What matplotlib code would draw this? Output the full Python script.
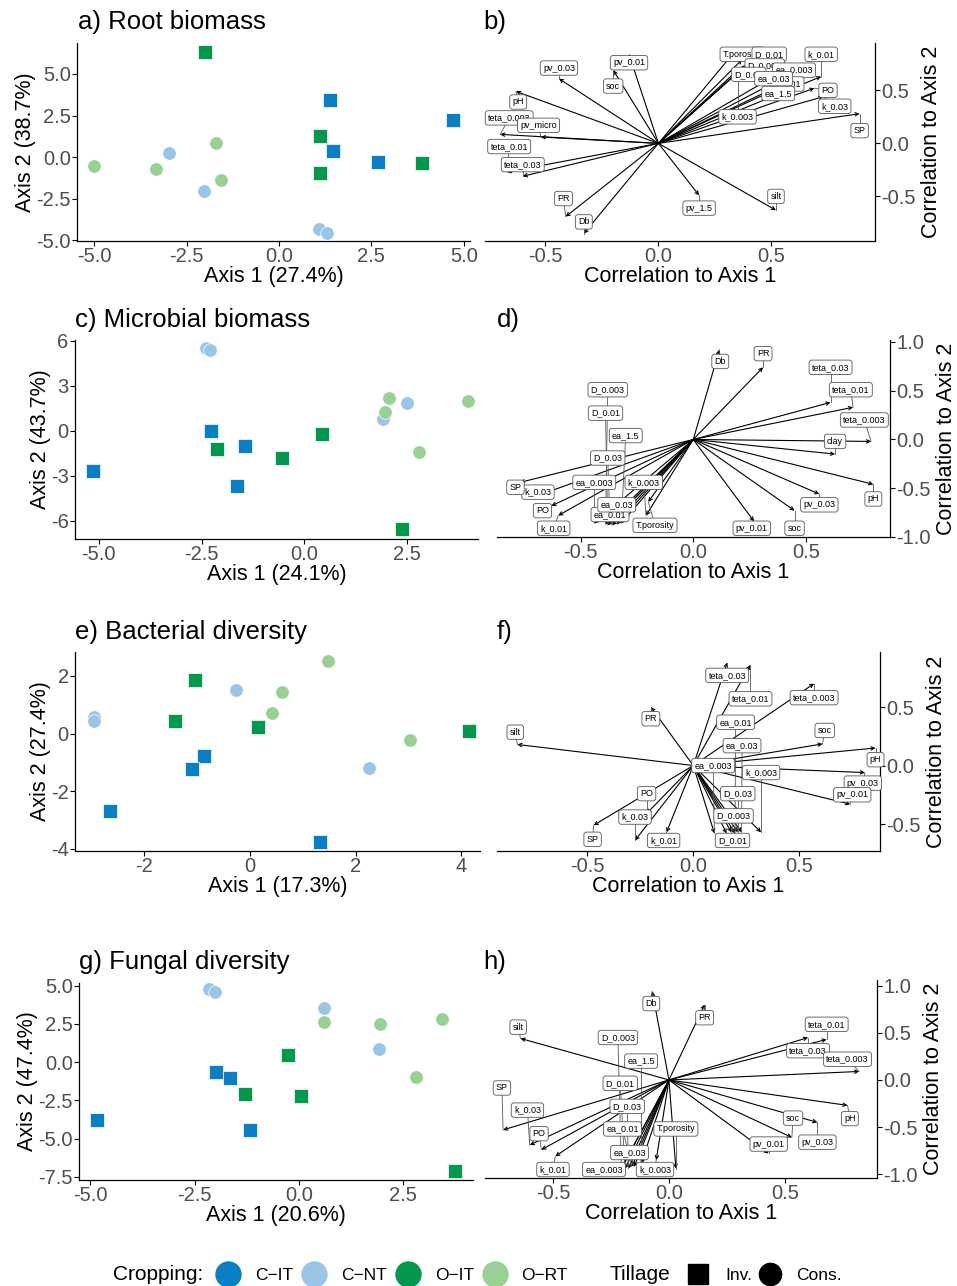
import numpy as np
import matplotlib.pyplot as plt
from matplotlib.lines import Line2D

plt.rcParams['font.family'] = ['Liberation Sans', 'DejaVu Sans']
plt.rcParams['axes.unicode_minus'] = False

cols = {'C-IT': '#0b7fc3', 'C-NT': '#9ac5e6', 'O-IT': '#04984f', 'O-RT': '#99d096'}
shape = {'C-IT': 's', 'O-IT': 's', 'C-NT': 'o', 'O-RT': 'o'}
grp = ['C-IT'] * 4 + ['O-IT'] * 4 + ['C-NT'] * 4 + ['O-RT'] * 4

# ---- ordination scores ----
a_x = [1.39, 4.72, 1.46, 2.68, -2.01, 1.12, 3.86, 1.12, -2.98, -2.04, 1.08, 1.31, -1.72, -5.0, -3.34, -1.56]
a_y = [3.44, 2.22, 0.38, -0.28, 6.32, 1.26, -0.36, -0.98, 0.26, -2.04, -4.34, -4.54, 0.82, -0.52, -0.74, -1.38]

c_x = [-2.27, -1.43, -5.14, -1.63, 0.44, -2.13, -0.54, 2.39, -2.38, -2.30, 2.49, 1.91, 2.07, 3.99, 1.96, 2.80]
c_y = [0.0, -0.98, -2.67, -3.64, -0.22, -1.2, -1.78, -6.56, 5.51, 5.36, 1.87, 0.78, 2.16, 1.96, 1.24, -1.38]

e_x = [-0.86, -1.09, -2.64, 1.32, -1.03, -1.42, 0.15, 4.14, -0.26, -2.94, -2.94, 2.26, 1.47, 0.61, 0.42, 3.03]
e_y = [-0.79, -1.21, -2.68, -3.76, 1.87, 0.45, 0.23, 0.08, 1.50, 0.58, 0.43, -1.19, 2.52, 1.45, 0.72, -0.23]

g_x = [-1.98, -1.65, -4.84, -1.17, -0.26, -1.29, 0.04, 3.73, -2.16, -2.0, 0.6, 1.91, 3.43, 0.59, 1.95, 2.81]
g_y = [-0.66, -1.05, -3.76, -4.45, 0.48, -2.10, -2.21, -7.12, 4.78, 4.59, 3.56, 0.87, 2.84, 2.60, 2.47, -0.94]

# ---- correlation vectors ----
b_names = ['T.porosity', 'D_0.01', 'D_0.003', 'D_0.03', 'k_0.003', 'ea_0.003', 'ea_0.01', 'ea_0.03', 'ea_1.5',
           'k_0.01', 'PO', 'k_0.03', 'SP', 'pv_0.03', 'pv_0.01', 'soc', 'pH', 'teta_0.003', 'pv_micro',
           'teta_0.01', 'teta_0.03', 'PR', 'Db', 'pv_1.5', 'silt']
b_x = [0.32, 0.37, 0.39, 0.35, 0.35, 0.59, 0.57, 0.51, 0.54, 0.72, 0.69, 0.73, 0.89, -0.44, -0.13, -0.20,
       -0.63, -0.70, -0.52, -0.67, -0.60, -0.41, -0.33, 0.18, 0.52]
b_y = [0.82, 0.79, 0.74, 0.69, 0.67, 0.66, 0.58, 0.63, 0.53, 0.63, 0.52, 0.44, 0.28, 0.61, 0.84, 0.69,
       0.49, 0.085, 0.06, -0.27, -0.31, -0.69, -0.85, -0.49, -0.63]

d_names = ['Db', 'PR', 'teta_0.03', 'teta_0.01', 'teta_0.003', 'clay', 'pH', 'pv_0.03', 'soc', 'pv_0.01',
           'T.porosity', 'k_0.003', 'D_0.003', 'D_0.01', 'ea_1.5', 'D_0.03', 'ea_0.003', 'k_0.03', 'SP',
           'PO', 'ea_0.01', 'ea_0.03', 'k_0.01']
d_x = [0.116, 0.31, 0.61, 0.71, 0.79, 0.63, 0.80, 0.56, 0.45, 0.27, -0.20, -0.21, -0.39, -0.38, -0.32,
       -0.37, -0.44, -0.66, -0.77, -0.63, -0.36, -0.34, -0.60]
d_y = [0.92, 0.74, 0.38, 0.33, -0.02, -0.15, -0.46, -0.56, -0.73, -0.84, -0.64, -0.78, -0.87, -0.88,
       -0.86, -0.86, -0.86, -0.55, -0.44, -0.68, -0.88, -0.87, -0.78]

f_names = ['teta_0.03', 'teta_0.01', 'teta_0.003', 'PR', 'ea_0.01', 'soc', 'ea_0.03', 'silt', 'pH',
           'ea_0.003', 'k_0.003', 'pv_0.03', 'pv_0.01', 'D_0.03', 'PO', 'k_0.03', 'SP', 'k_0.01',
           'D_0.003', 'D_0.01']
f_x = [0.16, 0.27, 0.57, -0.20, 0.197, 0.61, 0.228, -0.83, 0.86, 0.10, 0.32, 0.81, 0.74, 0.21, -0.22,
       -0.275, -0.47, -0.126, 0.18, 0.157]
f_y = [0.88, 0.86, 0.70, 0.50, -0.58, 0.185, -0.57, 0.18, 0.15, -0.58, -0.57, -0.06, -0.33, -0.57,
       -0.41, -0.64, -0.51, -0.57, -0.57, -0.58]

h_names = ['Db', 'PR', 'silt', 'teta_0.01', 'teta_0.03', 'teta_0.003', 'D_0.003', 'ea_1.5', 'D_0.01', 'SP',
           'D_0.03', 'k_0.03', 'PO', 'ea_0.01', 'T.porosity', 'soc', 'pH', 'pv_0.01', 'pv_0.03', 'ea_0.03',
           'k_0.01', 'ea_0.003', 'k_0.003']
h_x = [-0.072, 0.154, -0.64, 0.68, 0.60, 0.82, -0.205, -0.12, -0.19, -0.715, -0.175, -0.60, -0.55, -0.16,
       0.03, 0.53, 0.77, 0.43, 0.64, -0.15, -0.49, -0.21, -0.055]
h_y = [0.94, 0.80, 0.44, 0.43, 0.45, 0.09, -0.94, -0.89, -0.94, -0.53, -0.94, -0.69, -0.74, -0.92, -0.94,
       -0.61, -0.27, -0.78, -0.45, -0.92, -0.81, -0.96, -0.85]

# ---- label placement (repelled label positions) ----
b_lab = [(0.37, 0.84), (0.49, 0.84), (0.47, 0.73), (0.40, 0.65), (0.35, 0.25), (0.60, 0.69), (0.56, 0.56),
         (0.51, 0.61), (0.53, 0.47), (0.72, 0.84), (0.75, 0.50), (0.78, 0.35), (0.89, 0.12), (-0.44, 0.71),
         (-0.13, 0.76), (-0.20, 0.54), (-0.62, 0.39), (-0.66, 0.24), (-0.53, 0.17), (-0.66, -0.03),
         (-0.60, -0.20), (-0.42, -0.52), (-0.33, -0.74), (0.18, -0.61), (0.52, -0.50)]
d_lab = [(0.12, 0.80), (0.31, 0.88), (0.61, 0.74), (0.70, 0.51), (0.76, 0.20), (0.63, -0.02), (0.80, -0.61),
         (0.56, -0.67), (0.45, -0.91), (0.26, -0.91), (-0.17, -0.88), (-0.22, -0.44), (-0.38, 0.51),
         (-0.39, 0.27), (-0.30, 0.04), (-0.38, -0.19), (-0.44, -0.44), (-0.69, -0.54), (-0.79, -0.49),
         (-0.67, -0.73), (-0.37, -0.77), (-0.34, -0.67), (-0.62, -0.91)]
f_lab = [(0.16, 0.77), (0.27, 0.57), (0.57, 0.58), (-0.20, 0.40), (0.20, 0.37), (0.62, 0.30), (0.23, 0.17),
         (-0.84, 0.285), (0.86, 0.05), (0.094, 0.0), (0.32, -0.06), (0.80, -0.15), (0.75, -0.25),
         (0.21, -0.24), (-0.22, -0.24), (-0.275, -0.44), (-0.475, -0.63), (-0.14, -0.64), (0.19, -0.43),
         (0.185, -0.64)]
h_lab = [(-0.076, 0.81), (0.154, 0.66), (-0.65, 0.56), (0.68, 0.59), (0.60, 0.31), (0.77, 0.22),
         (-0.22, 0.45), (-0.12, 0.20), (-0.21, -0.035), (-0.72, -0.085), (-0.18, -0.28), (-0.61, -0.32),
         (-0.56, -0.57), (-0.20, -0.52), (0.03, -0.52), (0.535, -0.405), (0.78, -0.41), (0.43, -0.68),
         (0.64, -0.66), (-0.17, -0.77), (-0.50, -0.95), (-0.28, -0.95), (-0.06, -0.95)]

W, H = 957, 1286
fig = plt.figure(figsize=(W / 100, H / 100), dpi=100)

TICK = 14.5
LAB = 15.5


def box(l, t, r, b):
    return [l / W, 1 - b / H, (r - l) / W, (b - t) / H]


def scatter_panel(rect, xs, ys, xlim, ylim, xt, yt, xfmt, yfmt, xl, yl):
    ax = fig.add_axes(rect)
    for g in ['C-IT', 'C-NT', 'O-IT', 'O-RT']:
        idx = [i for i, gg in enumerate(grp) if gg == g]
        ax.scatter([xs[i] for i in idx], [ys[i] for i in idx], s=95, marker=shape[g], c=cols[g],
                   edgecolors='white', linewidths=0.5, zorder=3)
    ax.set_xlim(xlim)
    ax.set_ylim(ylim)
    ax.set_xticks(xt)
    ax.set_yticks(yt)
    ax.set_xticklabels([xfmt.format(v) for v in xt])
    ax.set_yticklabels([yfmt.format(v) for v in yt])
    for s in ['top', 'right']:
        ax.spines[s].set_visible(False)
    for s in ['left', 'bottom']:
        ax.spines[s].set_linewidth(0.9)
    ax.tick_params(labelsize=TICK, labelcolor='#4d4d4d', length=3.5, width=0.8, pad=1)
    ax.set_xlabel(xl, fontsize=LAB, labelpad=0)
    ax.set_ylabel(yl, fontsize=LAB, labelpad=0)
    return ax


def biplot(rect, names, vx, vy, labs, xlim, ylim, yt):
    ax = fig.add_axes(rect)
    for x, y in zip(vx, vy):
        ax.annotate('', xy=(x, y), xytext=(0, 0),
                    arrowprops=dict(arrowstyle='->', lw=0.8, color='black', shrinkA=0, shrinkB=0,
                                    mutation_scale=6), zorder=2)
    for (tx, ty), x, y in zip(labs, vx, vy):
        ax.plot([tx, x], [ty, y], color='#555555', lw=0.6, zorder=3)
    for i, (n, (tx, ty)) in enumerate(zip(names, labs)):
        ax.text(tx, ty, n, fontsize=6.5, ha='center', va='center', zorder=5 + i,
                bbox=dict(boxstyle='round,pad=0.3,rounding_size=0.3', fc='white', ec='#555555', lw=0.6))
    ax.set_xlim(xlim)
    ax.set_ylim(ylim)
    ax.set_xticks([-0.5, 0.0, 0.5])
    ax.set_xticklabels(['-0.5', '0.0', '0.5'])
    ax.set_yticks(yt)
    ax.set_yticklabels(['{:.1f}'.format(v) for v in yt])
    ax.yaxis.tick_right()
    ax.yaxis.set_label_position('right')
    for s in ['top', 'left']:
        ax.spines[s].set_visible(False)
    for s in ['right', 'bottom']:
        ax.spines[s].set_linewidth(0.9)
    ax.tick_params(labelsize=TICK, labelcolor='#4d4d4d', length=3.5, width=0.8, pad=1)
    ax.set_xlabel('Correlation to Axis 1', fontsize=LAB, labelpad=0)
    ax.set_ylabel('Correlation to Axis 2', fontsize=LAB, labelpad=4)
    return ax


scatter_panel(box(77, 43, 470, 241), a_x, a_y, (-5.47, 5.17), (-5.04, 6.86),
              [-5, -2.5, 0, 2.5, 5], [-5, -2.5, 0, 2.5, 5], '{:.1f}', '{:.1f}',
              'Axis 1 (27.4%)', 'Axis 2 (38.7%)')
biplot(box(485, 43, 875, 241), b_names, b_x, b_y, b_lab, (-0.767, 0.958), (-0.92, 0.946), [-0.5, 0.0, 0.5])

scatter_panel(box(75, 340, 478, 539), c_x, c_y, (-5.58, 4.23), (-7.2, 6.05),
              [-5, -2.5, 0, 2.5], [-6, -3, 0, 3, 6], '{:.1f}', '{:.0f}',
              'Axis 1 (24.1%)', 'Axis 2 (43.7%)')
biplot(box(497, 340, 890, 537), d_names, d_x, d_y, d_lab, (-0.872, 0.874), (-1.0, 1.02),
       [-1.0, -0.5, 0.0, 0.5, 1.0])

scatter_panel(box(75, 652, 480, 851), e_x, e_y, (-3.30, 4.35), (-4.07, 2.83),
              [-2, 0, 2, 4], [-4, -2, 0, 2], '{:.0f}', '{:.0f}',
              'Axis 1 (17.3%)', 'Axis 2 (27.4%)')
biplot(box(497, 652, 880, 851), f_names, f_x, f_y, f_lab, (-0.926, 0.881), (-0.73, 0.97), [-0.5, 0.0, 0.5])

scatter_panel(box(79, 983, 473, 1180), g_x, g_y, (-5.27, 4.17), (-7.7, 5.17),
              [-5, -2.5, 0, 2.5], [-7.5, -5, -2.5, 0, 2.5, 5], '{:.1f}', '{:.1f}',
              'Axis 1 (20.6%)', 'Axis 2 (47.4%)')
biplot(box(485, 980, 877, 1178), h_names, h_x, h_y, h_lab, (-0.793, 0.897), (-1.04, 1.06),
       [-1.0, -0.5, 0.0, 0.5, 1.0])

titles = [('a) Root biomass', 78, 22), ('b)', 483, 22), ('c) Microbial biomass', 75, 320), ('d)', 497, 320),
          ('e) Bacterial diversity', 75, 632), ('f)', 497, 632), ('g) Fungal diversity', 79, 962),
          ('h)', 483, 962)]
for t, x, y in titles:
    fig.text(x / W, 1 - y / H, t, fontsize=18.5, ha='left', va='center')

# legend
ly = 1 - 1275 / H
fig.text(113 / W, ly, 'Cropping:', fontsize=15, ha='left', va='center')
h1 = [Line2D([], [], ls='', marker='o', markersize=18, color=cols[g]) for g in ['C-IT', 'C-NT', 'O-IT', 'O-RT']]
fig.legend(h1, ['C\u2212IT', 'C\u2212NT', 'O\u2212IT', 'O\u2212RT'], ncol=4, loc='center left',
           bbox_to_anchor=(218 / W, ly), frameon=False, fontsize=12.5, handlelength=1.2,
           handletextpad=0.95, columnspacing=0.6, borderpad=0, borderaxespad=0)
fig.text(610 / W, ly, 'Tillage', fontsize=15, ha='left', va='center')
h2 = [Line2D([], [], ls='', marker='s', markersize=15, color='black'),
      Line2D([], [], ls='', marker='o', markersize=16, color='black')]
fig.legend(h2, ['Inv.', 'Cons.'], ncol=2, loc='center left', bbox_to_anchor=(688 / W, ly), frameon=False,
           fontsize=12.5, handlelength=1.2, handletextpad=0.95, columnspacing=0.4, borderpad=0, borderaxespad=0)

fig.savefig('out.png', dpi=100)
